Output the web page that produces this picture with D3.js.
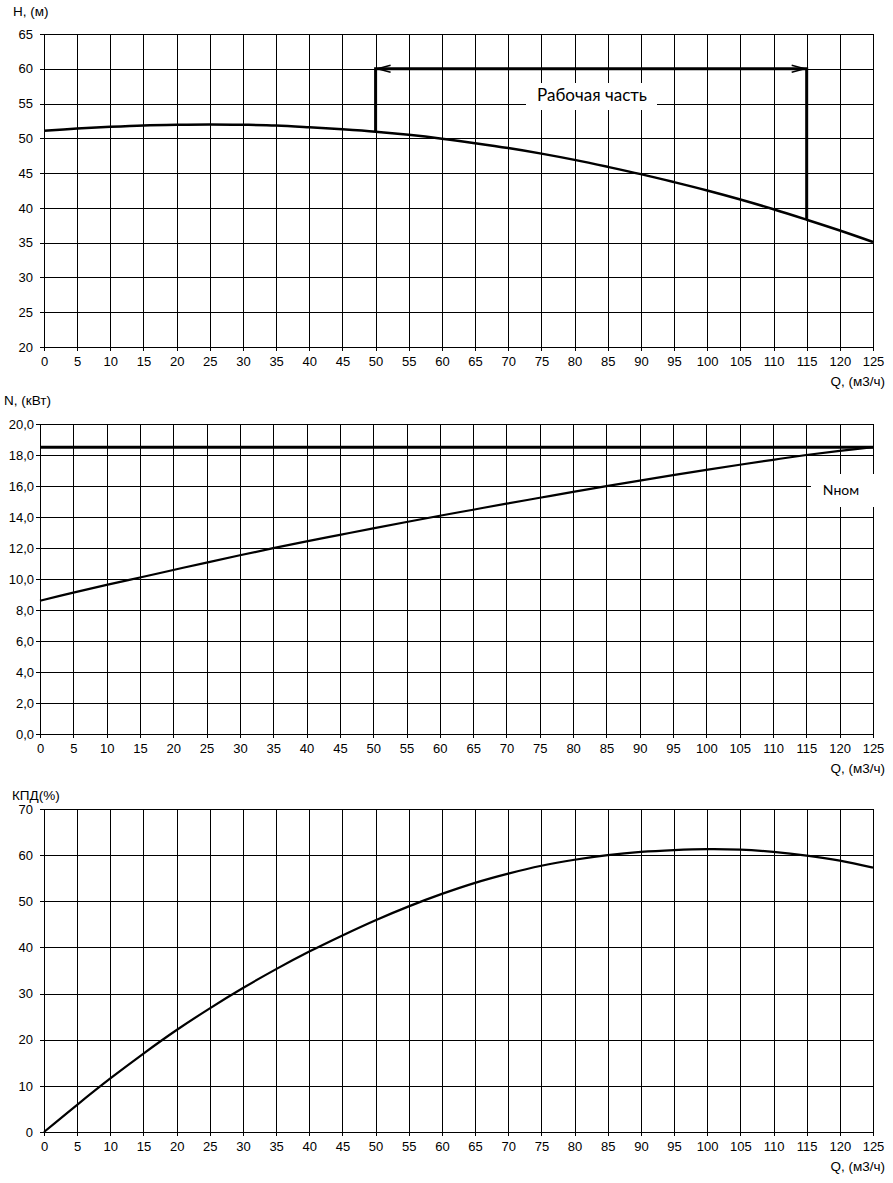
<!DOCTYPE html>
<html>
<head>
<meta charset="utf-8">
<script src="https://cdn.jsdelivr.net/npm/d3@7/dist/d3.min.js"></script>
<style>
  body { margin: 0; background: #fff; }
  svg text { font-family: "Liberation Sans", Arial, sans-serif; fill: #000; }
</style>
</head>
<body>
<script>
// flow, m3/h
var qValues = [0, 5, 10, 15, 20, 25, 30, 35, 40, 45, 50, 55, 60, 65, 70, 75, 80, 85, 90, 95, 100, 105, 110, 115, 120, 125];
// head H, m
var headValues = [51.1, 51.4, 51.65, 51.85, 51.95, 52.0, 51.95, 51.85, 51.6, 51.3, 50.95, 50.5, 49.95, 49.3, 48.6, 47.8, 46.9, 45.9, 44.85, 43.7, 42.5, 41.2, 39.8, 38.3, 36.75, 35.1];
// power N, kW
var powerValues = [8.6, 9.12, 9.62, 10.1, 10.58, 11.06, 11.53, 11.99, 12.43, 12.85, 13.27, 13.68, 14.08, 14.47, 14.86, 15.24, 15.62, 15.99, 16.35, 16.7, 17.04, 17.37, 17.69, 18.0, 18.27, 18.5];
// efficiency, %
var effValues = [0, 5.9, 11.6, 17.0, 22.1, 26.8, 31.2, 35.3, 39.1, 42.6, 45.9, 48.9, 51.6, 54.0, 56.0, 57.7, 59.0, 60.0, 60.7, 61.1, 61.3, 61.2, 60.7, 59.9, 58.8, 57.3];

var qTicks = [0, 5, 10, 15, 20, 25, 30, 35, 40, 45, 50, 55, 60, 65, 70, 75, 80, 85, 90, 95, 100, 105, 110, 115, 120, 125];
var headTicks = [20, 25, 30, 35, 40, 45, 50, 55, 60, 65];
var powerTicks = [0, 2, 4, 6, 8, 10, 12, 14, 16, 18, 20];
var effTicks = [0, 10, 20, 30, 40, 50, 60, 70];

var workZone = [50, 115];   // рабочая часть
var workTop = 60;
var powerNom = 18.5;

var svg = d3.select("body")
    .append("svg")
        .attr("width", 893)
        .attr("height", 1183);

function panel(cfg) {
    var g = svg.append("g");

    var x = d3.scaleLinear().domain([0, 125]).range([cfg.left, 873]);
    var y = d3.scaleLinear().domain(cfg.yDomain).range([cfg.bottom, cfg.top]);

    // vertical grid + ticks below
    g.append("g")
        .attr("transform", "translate(0," + cfg.bottom + ")")
        .call(d3.axisBottom(x).tickValues(qTicks).tickSizeInner(-(cfg.bottom - cfg.top)).tickSizeOuter(0).tickFormat(""))
        .call(function(a) { a.select(".domain").remove(); });

    g.append("g")
        .attr("transform", "translate(0," + cfg.bottom + ")")
        .call(d3.axisBottom(x).tickValues(qTicks).tickSize(4).tickPadding(6).tickSizeOuter(0));

    // horizontal grid + ticks left
    g.append("g")
        .attr("transform", "translate(" + cfg.left + ",0)")
        .call(d3.axisLeft(y).tickValues(cfg.yTicks).tickSizeInner(-(873 - cfg.left)).tickSizeOuter(0).tickFormat(""))
        .call(function(a) { a.select(".domain").remove(); });

    g.append("g")
        .attr("transform", "translate(" + cfg.left + ",0)")
        .call(d3.axisLeft(y).tickValues(cfg.yTicks).tickSize(4).tickPadding(cfg.pad).tickSizeOuter(0).tickFormat(cfg.fmt));

    g.selectAll("line, path.domain")
        .attr("stroke", "#000")
        .attr("stroke-width", 1)
        .attr("shape-rendering", "crispEdges");

    g.selectAll(".tick text")
        .style("font-size", "13px")
        .style("font-family", "'Liberation Sans', Arial, sans-serif");

    // axis titles
    g.append("text")
        .attr("x", cfg.titleX)
        .attr("y", cfg.titleY)
        .style("font-size", "13.5px")
        .text(cfg.title);

    g.append("text")
        .attr("x", 885)
        .attr("y", cfg.bottom + 39)
        .style("text-anchor", "end")
        .style("font-size", "13.5px")
        .text("Q, (м3/ч)");

    var line = d3.line()
        .x(function(d, i) { return x(qValues[i]); })
        .y(function(d) { return y(d); })
        .curve(d3.curveCatmullRom);

    return { g: g, x: x, y: y, line: line };
}

// ---- H(Q)
var p1 = panel({ left: 44, top: 34, bottom: 347, yDomain: [20, 65], yTicks: headTicks,
    pad: 7, fmt: d3.format("d"), title: "H, (м)", titleX: 13, titleY: 16 });

// label box for working zone
p1.g.append("rect")
    .attr("x", 526).attr("y", 83)
    .attr("width", 131).attr("height", 27)
    .attr("fill", "#fff");

p1.g.append("text")
    .attr("x", 592)
    .attr("y", 101)
    .style("text-anchor", "middle")
    .style("font-family", "Lato, 'Open Sans', sans-serif")
    .style("font-size", "17px")
    .text("Рабочая часть");

var h0 = headValues[qValues.indexOf(workZone[0])],
    h1 = headValues[qValues.indexOf(workZone[1])];

p1.g.append("path")
    .attr("d", "M" + p1.x(workZone[0]) + "," + p1.y(h0) +
               "V" + p1.y(workTop) +
               "H" + p1.x(workZone[1]) +
               "V" + p1.y(h1))
    .attr("fill", "none")
    .attr("stroke", "#000")
    .attr("stroke-width", 3);

// arrow heads
[[workZone[0], 1], [workZone[1], -1]].forEach(function(a) {
    var tx = p1.x(a[0]), ty = p1.y(workTop);
    p1.g.append("path")
        .attr("d", "M" + (tx + a[1] * 15) + "," + (ty - 3.5) + "L" + (tx + a[1] * 2) + "," + ty + "L" + (tx + a[1] * 15) + "," + (ty + 3.5))
        .attr("fill", "none")
        .attr("stroke", "#000")
        .attr("stroke-width", 1.5);
});

p1.g.append("path")
    .datum(headValues)
    .attr("d", p1.line)
    .attr("fill", "none")
    .attr("stroke", "#000")
    .attr("stroke-width", 2.5);

// ---- N(Q)
var p2 = panel({ left: 40, top: 424, bottom: 734, yDomain: [0, 20], yTicks: powerTicks,
    pad: 2, fmt: function(d) { return d.toFixed(1).replace(".", ","); },
    title: "N, (кВт)", titleX: 4, titleY: 405 });

p2.g.append("line")
    .attr("x1", p2.x(0)).attr("x2", p2.x(125))
    .attr("y1", p2.y(powerNom)).attr("y2", p2.y(powerNom))
    .attr("stroke", "#000")
    .attr("stroke-width", 3);

p2.g.append("path")
    .datum(powerValues)
    .attr("d", p2.line)
    .attr("fill", "none")
    .attr("stroke", "#000")
    .attr("stroke-width", 2.2);

p2.g.append("rect")
    .attr("x", 811).attr("y", 474)
    .attr("width", 63).attr("height", 33)
    .attr("fill", "#fff");

p2.g.append("text")
    .attr("x", 841)
    .attr("y", 495)
    .style("text-anchor", "middle")
    .style("font-family", "Lato, 'Open Sans', sans-serif")
    .style("font-size", "14px")
    .text("Nном");

// ---- КПД(Q)
var p3 = panel({ left: 44, top: 809, bottom: 1132, yDomain: [0, 70], yTicks: effTicks,
    pad: 7, fmt: d3.format("d"), title: "КПД(%)", titleX: 12, titleY: 800 });

p3.g.append("path")
    .datum(effValues)
    .attr("d", p3.line)
    .attr("fill", "none")
    .attr("stroke", "#000")
    .attr("stroke-width", 2.2);
</script>
</body>
</html>
